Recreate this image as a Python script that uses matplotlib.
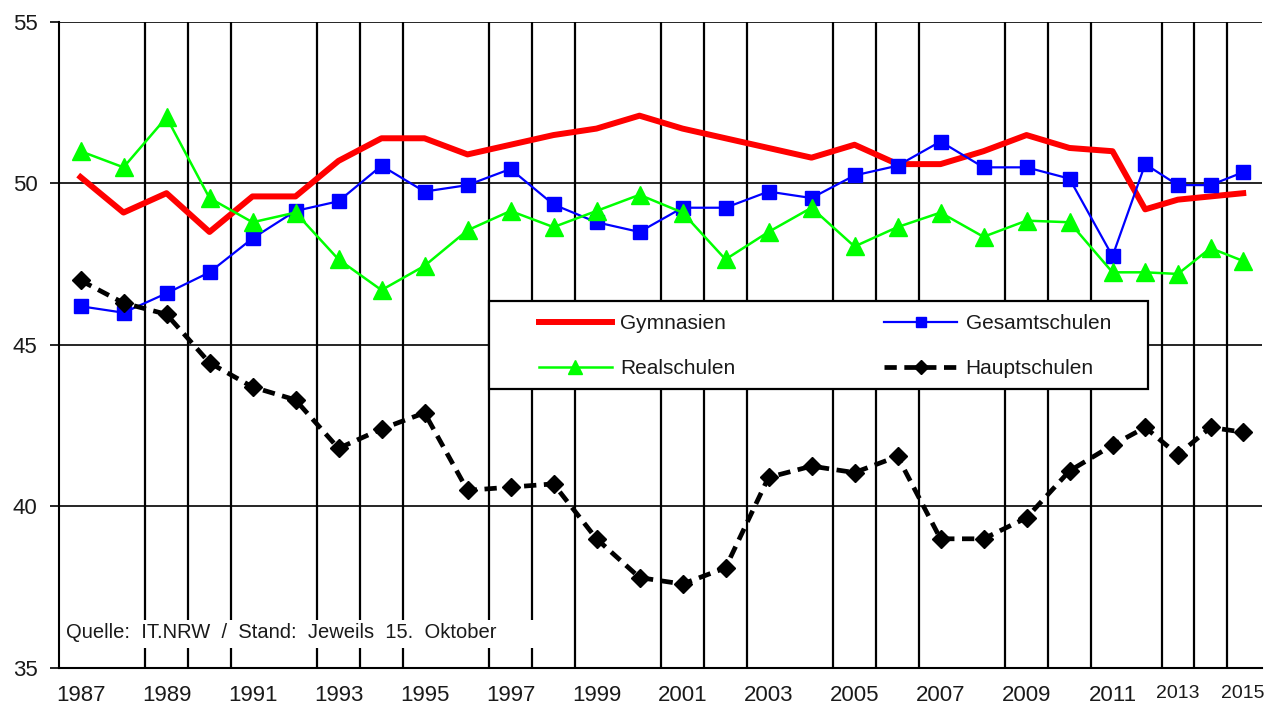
import matplotlib
matplotlib.use("Agg")
import matplotlib.pyplot as plt
from matplotlib.patches import Rectangle

plt.rcParams['font.family'] = ['Liberation Sans', 'DejaVu Sans']

years = list(range(1987, 2016))

gymnasien = [50.2, 49.1, 49.7, 48.5, 49.6, 49.6, 50.7, 51.4, 51.4, 50.9,
             51.2, 51.5, 51.7, 52.1, 51.7, 51.4, 51.1, 50.8, 51.2, 50.6,
             50.6, 51.0, 51.5, 51.1, 51.0, 49.2, 49.5, 49.6, 49.7]
gesamtschulen = [46.2, 46.0, 46.6, 47.25, 48.3, 49.15, 49.45, 50.55, 49.75, 49.95,
                 50.45, 49.35, 48.8, 48.5, 49.25, 49.25, 49.75, 49.55, 50.25, 50.55,
                 51.3, 50.5, 50.5, 50.15, 47.75, 50.6, 49.95, 49.95, 50.35]
realschulen = [51.0, 50.5, 52.05, 49.55, 48.8, 49.1, 47.65, 46.7, 47.45, 48.55,
               49.15, 48.65, 49.15, 49.65, 49.1, 47.65, 48.5, 49.25, 48.05, 48.65,
               49.1, 48.35, 48.85, 48.8, 47.25, 47.25, 47.2, 48.0, 47.6]
hauptschulen = [47.0, 46.3, 45.95, 44.45, 43.7, 43.3, 41.8, 42.4, 42.9, 40.5,
                40.6, 40.7, 39.0, 37.8, 37.6, 38.1, 40.9, 41.25, 41.05, 41.55,
                39.0, 39.0, 39.65, 41.1, 41.9, 42.45, 41.6, 42.45, 42.3]

tick_years = [1987, 1989, 1991, 1993, 1995, 1997, 1999, 2001, 2003, 2005,
              2007, 2009, 2011, 2013, 2015]
source = "Quelle:  IT.NRW  /  Stand:  Jeweils  15.  Oktober"


def xpos(y):
    # the years after 2011 are squeezed together in the original chart
    if y <= 2011:
        return y - 1987
    return 24 + 0.76 * (y - 2011)


x = [xpos(y) for y in years]

fig = plt.figure(figsize=(12.71, 7.08), dpi=100)
ax = fig.add_axes([59 / 1271, 1 - 668 / 708, 1203 / 1271, 646 / 708])

ax.set_xlim(-0.5, -0.5 + 1203 / 43)
ax.set_ylim(35, 55)

# vertical grid lines between the years (every fourth one is missing in the original)
for i in range(len(x) - 1):
    if i % 4 == 0:
        continue
    ax.axvline((x[i] + x[i + 1]) / 2, color='black', lw=1.6, zorder=1)
for v in [40, 45, 50, 55]:
    ax.axhline(v, color='black', lw=1.2, zorder=1)

l_gym, = ax.plot(x, gymnasien, color='#ff0000', lw=4.3, label='Gymnasien', zorder=3,
                 solid_joinstyle='round')
l_ges, = ax.plot(x, gesamtschulen, color='#0000ff', lw=1.6, marker='s', ms=9.5,
                 label='Gesamtschulen', zorder=3)
l_real, = ax.plot(x, realschulen, color='#00ff00', lw=1.8, marker='^', ms=13,
                  label='Realschulen', zorder=3)
l_haupt, = ax.plot(x, hauptschulen, color='black', lw=3.4, ls=(0, (2.6, 1.6)),
                   marker='D', ms=9.5, label='Hauptschulen', zorder=3)

for s in ['top', 'right']:
    ax.spines[s].set_visible(False)
for s in ['left', 'bottom']:
    ax.spines[s].set_color('black')
    ax.spines[s].set_linewidth(1.5)

ax.set_yticks([35, 40, 45, 50, 55])
ax.tick_params(axis='y', length=6.5, width=1.2, color='black', pad=9,
               labelsize=16, labelcolor='#1a1a1a')
ax.set_xticks([xpos(y) for y in tick_years])
ax.set_xticklabels([str(y) for y in tick_years])
ax.tick_params(axis='x', length=0, pad=12, labelsize=16, labelcolor='#1a1a1a')
for lab in ax.get_xticklabels()[-2:]:
    lab.set_fontsize(14)

# legend box
ax.add_patch(Rectangle((0.3574, 0.4319), 0.5478, 0.1362, transform=ax.transAxes,
                       facecolor='white', edgecolor='black', lw=1.6, zorder=4))
leg = ax.legend([l_gym, l_real, l_ges, l_haupt],
                ['Gymnasien', 'Realschulen', 'Gesamtschulen', 'Hauptschulen'],
                ncol=2, loc='center', bbox_to_anchor=(0.399, 0.43, 0.4755, 0.136),
                mode='expand', frameon=False, fontsize=15, handlelength=3.5,
                handletextpad=0.4, borderaxespad=0, borderpad=0, labelspacing=1.25,
                markerscale=0.75)
leg.set_zorder(5)
for t in leg.get_texts():
    t.set_color('#1a1a1a')

# source note
ax.add_patch(Rectangle((0.003, 0.031), 0.404, 0.0433, transform=ax.transAxes,
                       facecolor='white', edgecolor='none', zorder=4))
ax.text(0.006, 0.0557, source, transform=ax.transAxes, fontsize=14.5,
        va='center', ha='left', color='#1a1a1a', zorder=6)

fig.savefig('out.png', dpi=100)
